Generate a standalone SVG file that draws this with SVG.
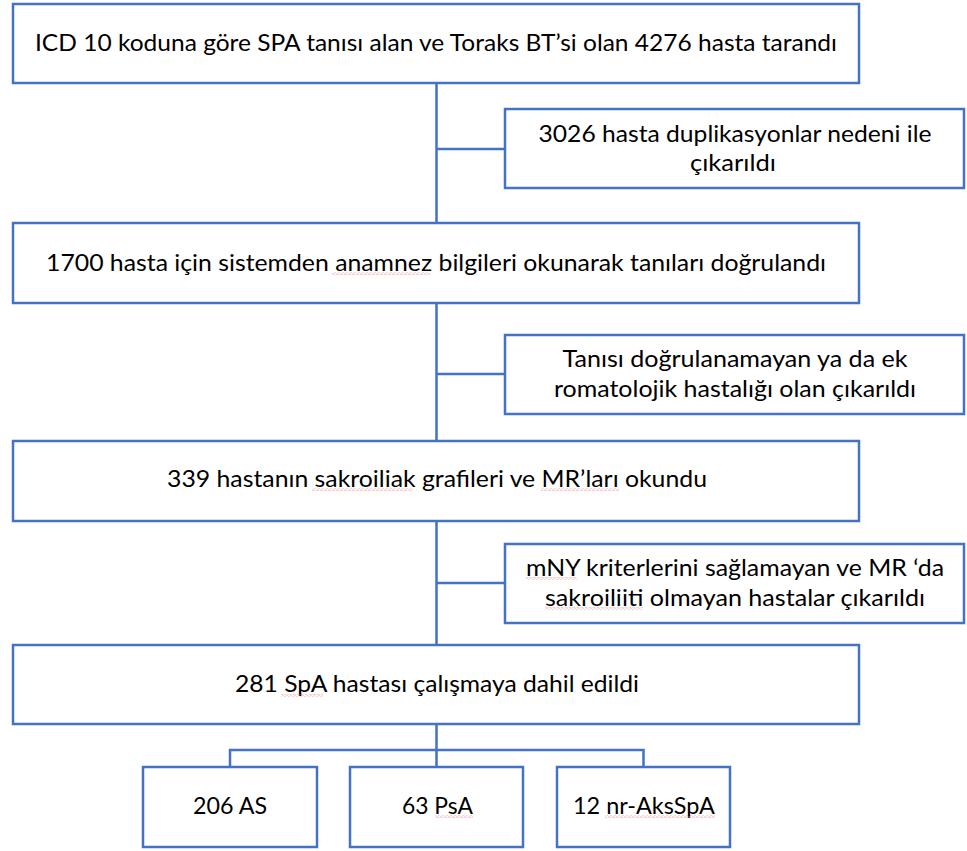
<svg xmlns="http://www.w3.org/2000/svg" width="967" height="851" viewBox="0 0 967 851">
  <style>
    .box { fill: #ffffff; stroke: #4472C4; stroke-width: 2.5; }
    .con { fill: none; stroke: #4472C4; stroke-width: 2.5; }
    .t { font-family: Lato, "Liberation Sans", sans-serif; font-size: 24px; fill: #000000; text-anchor: middle; }
  </style>
  <defs>
    <pattern id="sq" x="0" y="0" width="4" height="3" patternUnits="userSpaceOnUse">
      <path d="M0,1.5 L1,0.5 L3,2.5 L4,1.5" fill="none" stroke="#e88a8a" stroke-width="0.8"/>
    </pattern>
  </defs>
  <rect x="0" y="0" width="967" height="851" fill="#ffffff"/>

  <g id="connectors">
    <path class="con" d="M436.5,83 V223 M436.5,149 H505"/>
    <path class="con" d="M436.5,303 V441 M436.5,374 H505"/>
    <path class="con" d="M436.5,521 V645 M436.5,583 H505"/>
    <path class="con" d="M436.5,724 V767 M230,767 V750 H643.5 V767"/>
  </g>

  <g id="n1">
    <rect class="box" x="13" y="4" width="846" height="79"/>
    <text class="t" x="436" y="51" textLength="802" lengthAdjust="spacingAndGlyphs">ICD 10 koduna göre SPA tanısı alan ve Toraks BT’si olan 4276 hasta tarandı</text>
  </g>

  <g id="n2">
    <rect class="box" x="505" y="109" width="459" height="79"/>
    <text class="t" x="735" y="142" textLength="393" lengthAdjust="spacingAndGlyphs">3026 hasta duplikasyonlar nedeni ile</text>
    <text class="t" x="733" y="171" textLength="86" lengthAdjust="spacingAndGlyphs">çıkarıldı</text>
  </g>

  <g id="n3">
    <rect class="box" x="13" y="223" width="846" height="80"/>
    <text class="t" x="436" y="271" textLength="780" lengthAdjust="spacingAndGlyphs">1700 hasta için sistemden anamnez bilgileri okunarak tanıları doğrulandı</text>
    <rect x="332" y="272" width="98" height="3" fill="url(#sq)"/>
  </g>

  <g id="n4">
    <rect class="box" x="505" y="335" width="459" height="79"/>
    <text class="t" x="735" y="367" textLength="345" lengthAdjust="spacingAndGlyphs">Tanısı doğrulanamayan ya da ek</text>
    <text class="t" x="735" y="397" textLength="362" lengthAdjust="spacingAndGlyphs">romatolojik hastalığı olan çıkarıldı</text>
  </g>

  <g id="n5">
    <rect class="box" x="13" y="441" width="846" height="80"/>
    <text class="t" x="437" y="487" textLength="540" lengthAdjust="spacingAndGlyphs">339 hastanın sakroiliak grafileri ve MR’ları okundu</text>
    <rect x="312" y="488" width="101" height="3" fill="url(#sq)"/>
    <rect x="541" y="488" width="78" height="3" fill="url(#sq)"/>
  </g>

  <g id="n6">
    <rect class="box" x="505" y="544" width="459" height="79"/>
    <text class="t" x="735" y="576" textLength="418" lengthAdjust="spacingAndGlyphs">mNY kriterlerini sağlamayan ve MR ‘da</text>
    <text class="t" x="735" y="606" textLength="380" lengthAdjust="spacingAndGlyphs">sakroiliiti olmayan hastalar çıkarıldı</text>
    <rect x="526" y="577" width="51" height="3" fill="url(#sq)"/>
    <rect x="545" y="607" width="98" height="3" fill="url(#sq)"/>
  </g>

  <g id="n7">
    <rect class="box" x="13" y="645" width="846" height="79"/>
    <text class="t" x="437" y="692" textLength="404" lengthAdjust="spacingAndGlyphs">281 SpA hastası çalışmaya dahil edildi</text>
    <rect x="281" y="694" width="42" height="3" fill="url(#sq)"/>
  </g>

  <g id="n8">
    <rect class="box" x="143" y="767" width="174" height="80"/>
    <text class="t" x="230" y="814" textLength="74" lengthAdjust="spacingAndGlyphs">206 AS</text>
  </g>

  <g id="n9">
    <rect class="box" x="350" y="767" width="173" height="80"/>
    <text class="t" x="437.5" y="814" textLength="71" lengthAdjust="spacingAndGlyphs">63 PsA</text>
    <rect x="435" y="815" width="38" height="3" fill="url(#sq)"/>
  </g>

  <g id="n10">
    <rect class="box" x="557" y="767" width="173" height="80"/>
    <text class="t" x="644" y="814" textLength="142" lengthAdjust="spacingAndGlyphs">12 nr-AksSpA</text>
    <rect x="605" y="815" width="110" height="3" fill="url(#sq)"/>
  </g>
</svg>
